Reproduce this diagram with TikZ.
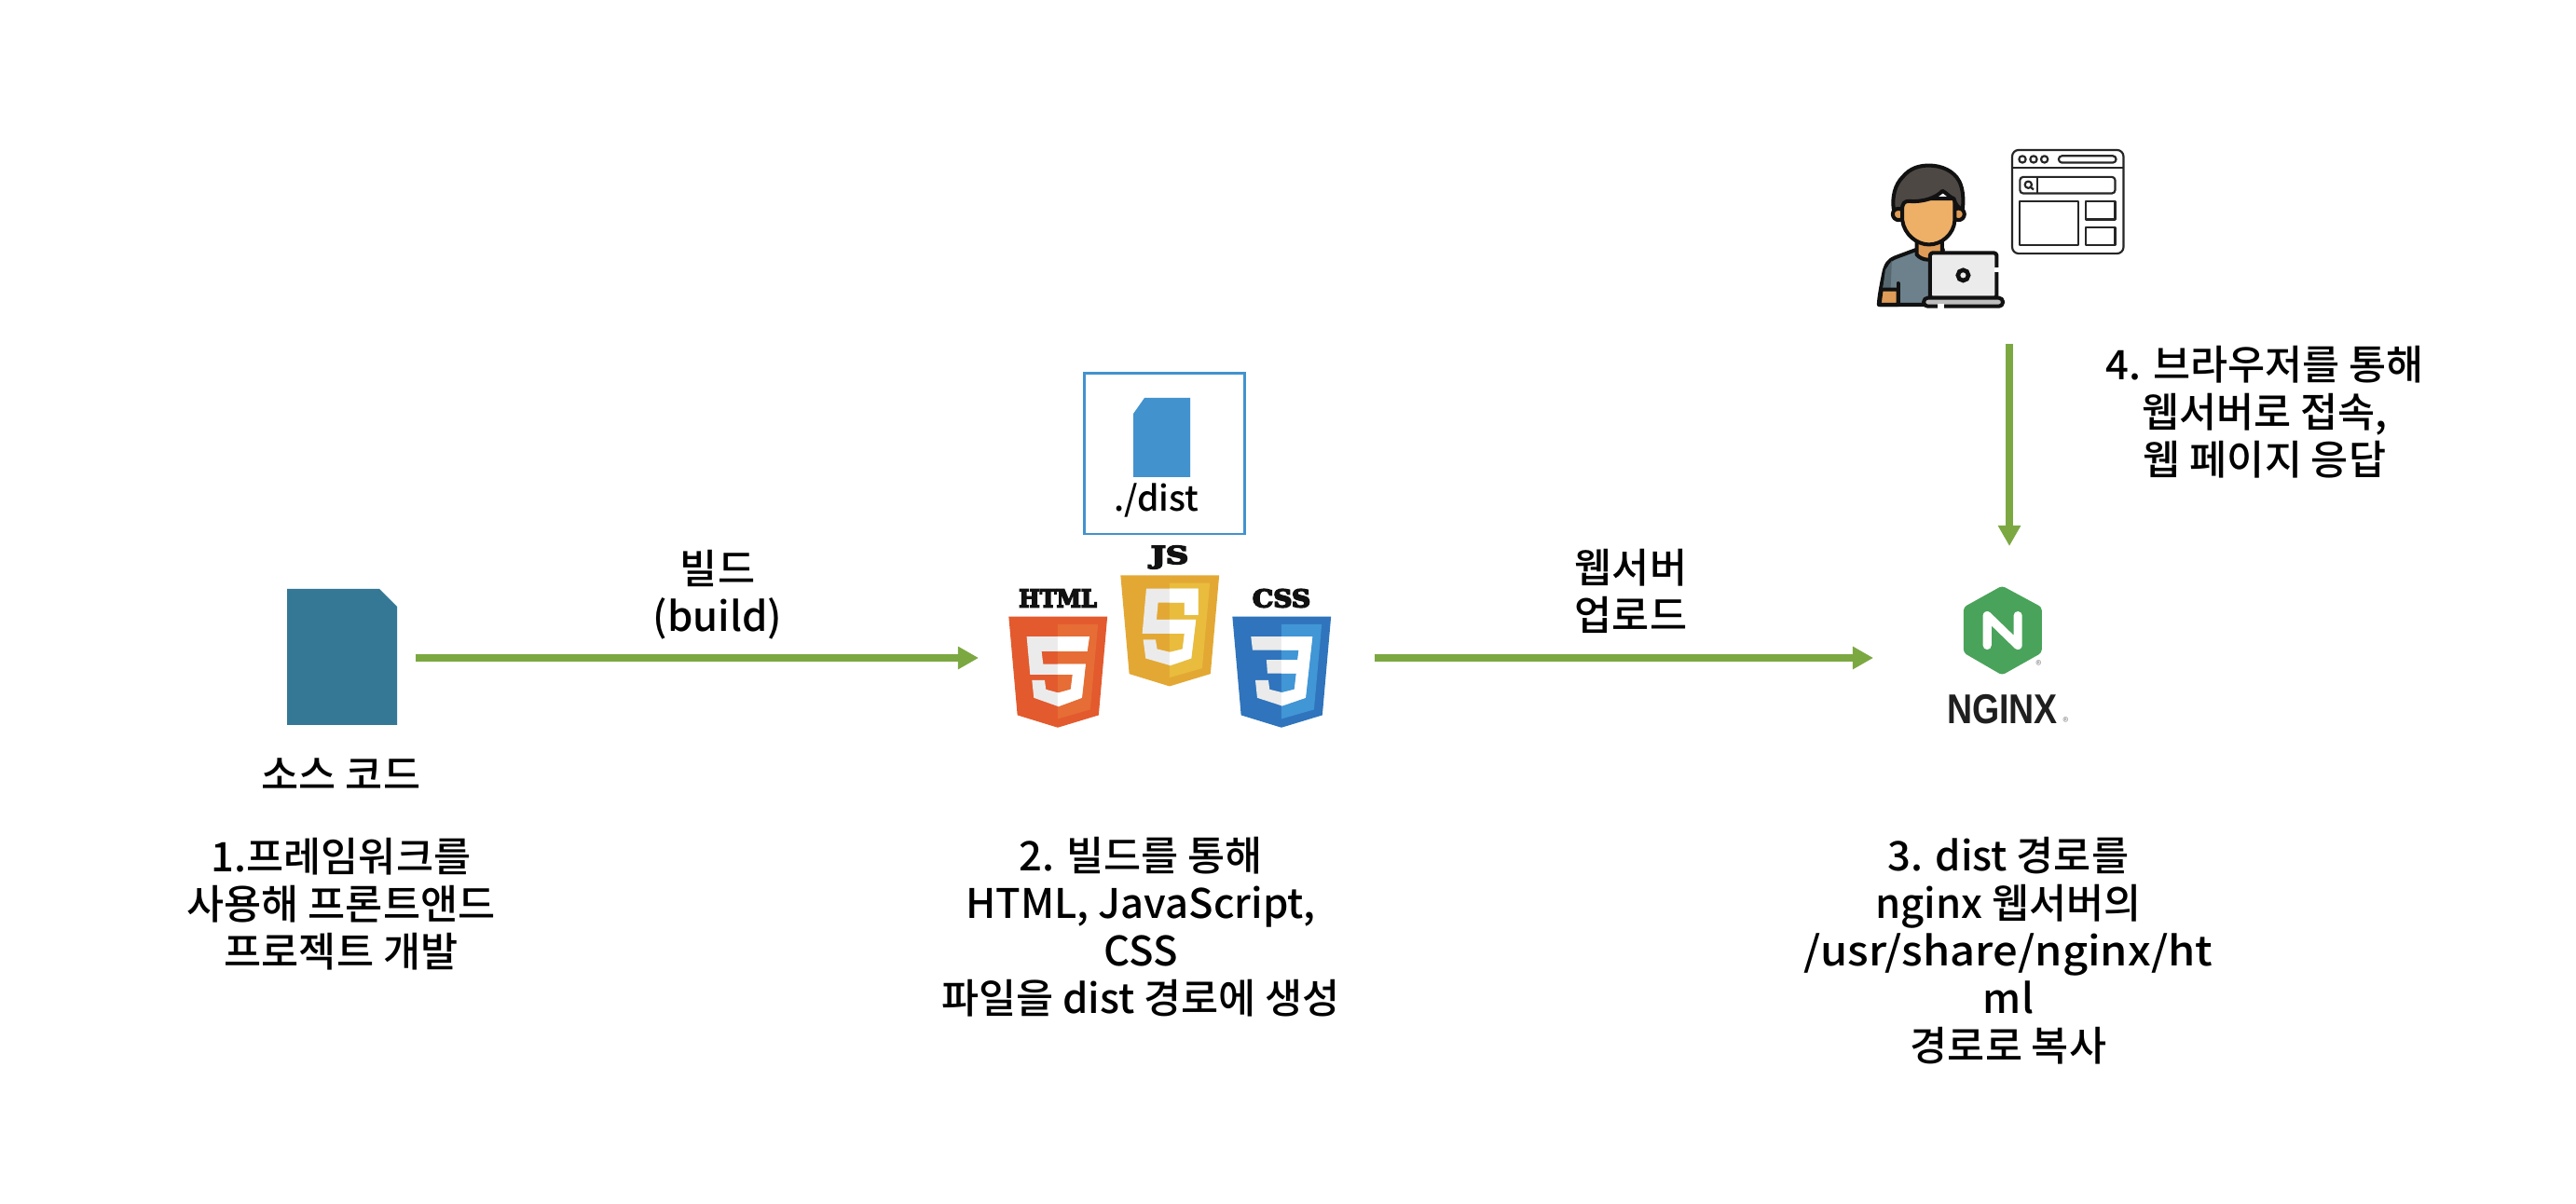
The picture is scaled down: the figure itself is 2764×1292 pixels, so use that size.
\documentclass[tikz,border=0pt]{standalone}
\usepackage{graphicx}
\usepackage{fontspec}
\setmainfont{Noto Sans CJK KR Medium}
\newfontfamily\logofont{DejaVu Serif Bold}
\newfontfamily\nginxfont{Liberation Sans Bold}
\newcommand{\heavytext}[1]{\special{pdf:code 2 Tr 0.45 w}#1\special{pdf:code 0 Tr}}
\usetikzlibrary{arrows.meta}
\definecolor{arrowgreen}{HTML}{7CA842}
\definecolor{srcblue}{HTML}{347896}
\definecolor{distblue}{HTML}{4292CE}
\definecolor{htmlbase}{HTML}{E25A2E}
\definecolor{htmllight}{HTML}{E66D35}
\definecolor{jsbase}{HTML}{E3A834}
\definecolor{jslight}{HTML}{E9BC3D}
\definecolor{cssbase}{HTML}{2F74BC}
\definecolor{csslight}{HTML}{4196D6}
\definecolor{nginxgreen}{HTML}{4AA35A}
\definecolor{skin}{HTML}{EEAF67}
\definecolor{skindark}{HTML}{DE9C58}
\definecolor{hair}{HTML}{4E4845}
\definecolor{shirt}{HTML}{6C818C}
\definecolor{screengrey}{HTML}{EBEBEB}
\definecolor{basegrey}{HTML}{BDBDBD}
\definecolor{ink}{HTML}{111111}
\tikzset{
  flow/.style={draw=arrowgreen,line width=2.28pt,-{Triangle[length=6.3pt,width=6.6pt]}},
  lbl/.style={align=center,font=\fontsize{12.4}{14.5}\selectfont,text=black,inner sep=0pt},
  logolabel/.style={font=\fontsize{7.4}{8}\logofont,text=ink,inner sep=0pt},
  zoomed/.style={x=0.003333cm,y=-0.003333cm},
  personline/.style={draw=ink,line width=1.15pt,line join=round,line cap=round},
  browserline/.style={draw=black!85,line width=0.62pt,line join=round},
  marktext/.style={font=\fontsize{3.5}{3.5}\selectfont,text=black!45,inner sep=0pt}
}
% #1 origin, #2 base colour, #3 light colour, #4 glyph path, #5 top y of the shield
\newcommand{\logoshield}[5]{%
  \begin{scope}[shift={#1},zoomed]
    \fill[#2] (22,#5) -- (340,#5) -- (312,#5+318) -- (180,#5+358) -- (50,#5+318) -- cycle;
    \fill[#3] (180,#5+25) -- (310,#5+25) -- (285,#5+300) -- (180,#5+330) -- cycle;
    \fill[screengrey] #4;
    \begin{scope}
      \clip (180,0) rectangle (360,480);
      \fill[white] #4;
    \end{scope}
  \end{scope}%
}
\begin{document}
\begin{tikzpicture}[x=0.01cm,y=-0.01cm]
\useasboundingbox (0,0) rectangle (2764,1292);
\fill[white] (0,0) rectangle (2764,1292);

% source file
\fill[srcblue] (308,632) -- (407,632) -- (426,651) -- (426,778) -- (308,778) -- cycle;
\coordinate (srcout) at (446,706);
\node[lbl] (srclabel) at (366,831) {소스 코드};
\node[lbl] (stepone) at (366,970) {1.프레임워크를\\사용해 프론트앤드\\프로젝트 개발};

% dist box
\draw[distblue,line width=0.85pt] (1163,401) rectangle (1335,573);
\fill[distblue] (1216,444) -- (1228,427) -- (1277,427) -- (1277,512) -- (1216,512) -- cycle;
\node[lbl,font=\fontsize{10.6}{12}\selectfont] (dist) at (1241,537) {./dist};

% logos
\logoshield{(1075,625)}{htmlbase}{htmllight}{(80,175) -- (282,175) -- (275,222) -- (128,222) -- (133,263) -- (270,263) -- (258,372) -- (182,400) -- (103,372) -- (97,315) -- (138,315) -- (142,345) -- (182,356) -- (222,345) -- (228,297) -- (91,297) -- cycle}{110}
\logoshield{(1195,585)}{jsbase}{jslight}{(105,140) -- (272,140) -- (272,225) -- (228,225) -- (228,185) -- (143,185) -- (138,240) -- (265,240) -- (250,365) -- (182,388) -- (103,365) -- (95,305) -- (135,305) -- (140,335) -- (182,345) -- (222,335) -- (228,285) -- (92,285) -- cycle}{97}
\logoshield{(1315,625)}{cssbase}{csslight}{(82,175) -- (280,175) -- (258,372) -- (182,398) -- (102,372) -- (96,315) -- (138,315) -- (142,345) -- (182,355) -- (222,345) -- (228,293) -- (135,293) -- (132,250) -- (232,250) -- (236,218) -- (87,218) -- cycle}{110}
\node[logolabel] (htmllabel) at (1135,642) {\scalebox{0.92}[1]{\heavytext{HTML}}};
\node[logolabel] (jslabel) at (1255,598) {\scalebox{1.3}[1]{\heavytext{JS}}};
\node[logolabel] (csslabel) at (1375,642) {\scalebox{1.08}[1]{\heavytext{CSS}}};
\coordinate (htmlin) at (1050,706);
\coordinate (cssout) at (1475,706);

\node[lbl] (buildlabel) at (770,638) {빌드\\(build)};
\node[lbl] (uploadlabel) at (1750,634) {웹서버\\업로드};
\node[lbl] (steptwo) at (1224,995) {2. 빌드를 통해\\HTML, JavaScript,\\CSS\\파일을 dist 경로에 생성};

% nginx
\begin{scope}[shift={(2040,600)},zoomed]
  \fill[nginxgreen,rounded corners=1pt] (325,86) -- (453,155) -- (453,302) -- (325,374) -- (201,302) -- (201,155) -- cycle;
  \draw[white,line width=2.6pt,line cap=round,line join=round] (277,278) -- (277,182) -- (376,278) -- (376,182);
  \node[marktext] (markone) at (443,340) {®};
  \node[inner sep=0pt,font=\fontsize{12.7}{13}\nginxfont,text=black!88] (nginxword) at (326,485) {\scalebox{0.84}[1]{NGINX}};
  \node[marktext] (marktwo) at (530,524) {®};
\end{scope}
\coordinate (nginxleft) at (2010,706);
\coordinate (nginxtop) at (2156,586);
\node[lbl] (stepthree) at (2155,1020) {3. dist 경로를\\nginx 웹서버의\\\scalebox{1.08}[1]{/usr/share/nginx/ht}\\ml\\경로로 복사};

% user
\begin{scope}[shift={(1950,130)},zoomed]
  % shirt
  \filldraw[fill=shirt,personline] (198,592) .. controls (198,570) and (208,520) .. (214,490) .. controls (220,460) and (232,447) .. (250,440) -- (320,414) -- (405,414) -- (380,592) -- cycle;
  \fill[shirt!80!black] (211,540) -- (219,480) -- (240,450) -- (236,540) -- cycle;
  \filldraw[fill=skindark,personline] (200,592) -- (206,543) -- (260,543) -- (260,592) -- cycle;
  \draw[personline] (260,592) -- (260,523);
  % neck
  \filldraw[fill=skindark,personline] (320,385) -- (320,430) .. controls (335,450) and (375,455) .. (402,430) -- (402,385) -- cycle;
  % ears
  \filldraw[fill=skindark,personline] (262,300) circle[radius=19];
  \filldraw[fill=skindark,personline] (455,300) circle[radius=19];
  % face
  \filldraw[fill=skin,personline] (274,250) -- (274,320) .. controls (280,365) and (320,398) .. (360,398) .. controls (400,398) and (440,365) .. (443,320) -- (443,250) -- cycle;
  % hair
  \filldraw[fill=hair,personline] (246,285) .. controls (240,245) and (250,205) .. (275,180) .. controls (300,150) and (330,143) .. (360,143) .. controls (400,143) and (440,160) .. (458,195) .. controls (470,220) and (472,255) .. (468,285) .. controls (455,280) and (445,270) .. (440,250) .. controls (425,245) and (415,230) .. (403,225) .. controls (385,245) and (345,262) .. (295,258) .. controls (280,258) and (275,265) .. (272,285) .. controls (262,280) and (252,285) .. (246,285) -- cycle;
  % laptop
  \filldraw[fill=screengrey,personline,rounded corners=0.8pt] (363,570) -- (363,425) -- (578,425) -- (578,570) -- cycle;
  \fill[white] (570,472) rectangle (586,488);
  \filldraw[fill=screengrey,draw=ink,line width=1.3pt] (470,497) circle[radius=17];
  \filldraw[fill=basegrey,personline,rounded corners=1.2pt] (343,570) -- (598,570) -- (598,597) -- (343,597) -- cycle;
  \fill[white] (388,590) rectangle (408,604);
\end{scope}

% browser
\begin{scope}[shift={(1950,130)},zoomed]
  \draw[browserline,rounded corners=2pt] (628,93) rectangle (987,427);
  \draw[browserline] (628,150) -- (987,150);
  \draw[browserline] (661,123) circle[radius=11];
  \draw[browserline] (697,123) circle[radius=11];
  \draw[browserline] (732,123) circle[radius=11];
  \draw[browserline,rounded corners=1pt] (778,112) rectangle (963,134);
  \draw[browserline,rounded corners=1pt] (653,180) rectangle (960,233);
  \draw[browserline] (710,180) -- (710,233);
  \draw[browserline] (680,205) circle[radius=11];
  \draw[browserline] (688,213) -- (697,221);
  \draw[browserline] (653,258) rectangle (842,400);
  \draw[browserline] (866,258) rectangle (960,317);
  \draw[browserline] (866,342) rectangle (960,400);
\end{scope}
\coordinate (userout) at (2156,369);
\node[lbl] (stepfour) at (2430,442) {4. 브라우저를 통해\\웹서버로 접속,\\웹 페이지 응답};

% connectors
\draw[flow] (srcout) -- (htmlin);
\draw[flow] (cssout) -- (nginxleft);
\draw[flow] (userout) -- (nginxtop);
\end{tikzpicture}
\end{document}
